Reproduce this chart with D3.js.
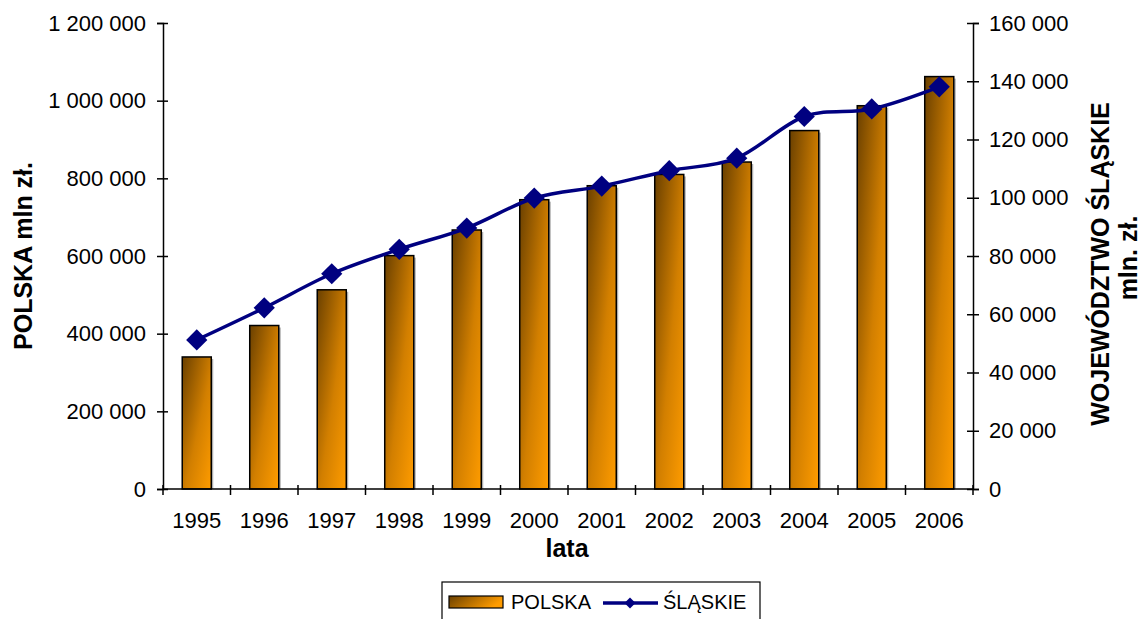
<!DOCTYPE html>
<html>
<head>
<meta charset="utf-8">
<script src="https://cdn.jsdelivr.net/npm/d3@7"></script>
<style>
  body { margin: 0; background: #fff; }
  text { font-family: "Liberation Sans", Arial, sans-serif; fill: #000; }
</style>
</head>
<body>
<div id="chart"></div>
<script>

var years = ['1995','1996','1997','1998','1999','2000','2001','2002','2003','2004','2005','2006']
var polska = [340000, 421000, 513000, 601000, 667000, 745000, 781000, 810000, 842000, 923000, 987000, 1062000]
var slaskie = [51200, 62200, 73900, 82300, 89600, 99900, 104000, 109300, 113600, 127900, 130500, 138100]
var leftTicks = [0, 200000, 400000, 600000, 800000, 1000000, 1200000]
var rightTicks = [0, 20000, 40000, 60000, 80000, 100000, 120000, 140000, 160000]

var width = 1142, height = 619
var plot = {left: 163, right: 973, top: 23, bottom: 489}

var fmt = function(d) { return d3.format(",")(d).replace(/,/g, ' ') }

var svg = d3.select("#chart").append("svg")
  .attr("width", width)
  .attr("height", height)

var defs = svg.append("defs")
var grad = defs.append("linearGradient")
  .attr("id", "barGrad")
  .attr("x1", 0).attr("y1", 0).attr("x2", 1).attr("y2", 1)
grad.append("stop").attr("offset", 0).attr("stop-color", "#6a4000")
grad.append("stop").attr("offset", 0.55).attr("stop-color", "#d27f00")
grad.append("stop").attr("offset", 1).attr("stop-color", "#ff9c00")

var legGrad = defs.append("linearGradient")
  .attr("id", "legGrad")
  .attr("x1", 0).attr("y1", 0).attr("x2", 1).attr("y2", 0.3)
legGrad.append("stop").attr("offset", 0).attr("stop-color", "#6a4000")
legGrad.append("stop").attr("offset", 1).attr("stop-color", "#ff9c00")

var x = d3.scaleBand()
  .domain(years)
  .range([plot.left, plot.right])
  .paddingInner(0.57)
  .paddingOuter(0.285)

var yLeft = d3.scaleLinear().domain([0, 1200000]).range([plot.bottom, plot.top])
var yRight = d3.scaleLinear().domain([0, 160000]).range([plot.bottom, plot.top])

// bar shadows then bars
svg.selectAll(".shadow")
  .data(polska)
  .enter().append("rect")
  .attr("x", function(d, i) { return x(years[i]) + 2 })
  .attr("y", function(d) { return yLeft(d) + 2 })
  .attr("width", x.bandwidth())
  .attr("height", function(d) { return plot.bottom - yLeft(d) - 2 })
  .style("fill", "#b0b0b0")

svg.selectAll(".bar")
  .data(polska)
  .enter().append("rect")
  .attr("class", "bar")
  .attr("x", function(d, i) { return x(years[i]) })
  .attr("y", function(d) { return yLeft(d) })
  .attr("width", x.bandwidth())
  .attr("height", function(d) { return plot.bottom - yLeft(d) })
  .style("fill", "url(#barGrad)")
  .style("stroke", "#000")
  .style("stroke-width", 1.5)

// line
var line = d3.line()
  .x(function(d, i) { return x(years[i]) + x.bandwidth() / 2 })
  .y(function(d) { return yRight(d) })
  .curve(d3.curveCardinal)

svg.append("path")
  .datum(slaskie)
  .attr("d", line)
  .style("fill", "none")
  .style("stroke", "#000080")
  .style("stroke-width", 3.5)

svg.selectAll(".marker")
  .data(slaskie)
  .enter().append("path")
  .attr("d", d3.symbol().type(d3.symbolSquare).size(225))
  .attr("transform", function(d, i) {
    return "translate(" + (x(years[i]) + x.bandwidth() / 2) + "," + yRight(d) + ") rotate(45)"
  })
  .style("fill", "#000080")

// left axis
var gl = svg.append("g")
  .attr("transform", "translate(" + plot.left + ",0)")
  .call(d3.axisLeft(yLeft).tickValues(leftTicks).tickFormat(fmt).tickSize(6).tickPadding(11))
gl.selectAll(".tick line").attr("x1", 5)
gl.selectAll(".tick text").style("font-size", "22px").style("font-family", "Liberation Sans, Arial, sans-serif")

// right axis
var gr = svg.append("g")
  .attr("transform", "translate(" + plot.right + ",0)")
  .call(d3.axisRight(yRight).tickValues(rightTicks).tickFormat(fmt).tickSize(6).tickPadding(10))
gr.selectAll(".tick line").attr("x1", -6)
gr.selectAll(".tick text").style("font-size", "22px").style("font-family", "Liberation Sans, Arial, sans-serif")

// bottom axis with labels, ticks between categories
var gb = svg.append("g")
  .attr("transform", "translate(0," + plot.bottom + ")")
  .call(d3.axisBottom(x).tickSize(0).tickPadding(23))
gb.selectAll(".tick text").style("font-size", "22px").style("font-family", "Liberation Sans, Arial, sans-serif")
gb.select(".domain").attr("d", "M" + plot.left + ",0H" + plot.right)

var gap = (x.step() - x.bandwidth()) / 2
var bounds = years.map(function(y) { return x(y) - gap }).concat([plot.right])
gb.selectAll(".btick")
  .data(bounds)
  .enter().append("line")
  .attr("x1", function(d) { return d }).attr("x2", function(d) { return d })
  .attr("y1", -4).attr("y2", 6)

svg.selectAll(".domain, .tick line, line").style("stroke", "#000").style("stroke-width", 1.5)

// axis titles
svg.append("text")
  .attr("transform", "translate(32,256) rotate(-90)")
  .style("text-anchor", "middle")
  .style("font-weight", "bold")
  .style("font-size", "25px")
  .text("POLSKA mln zł.")

svg.append("text")
  .attr("x", 567).attr("y", 557)
  .style("text-anchor", "middle")
  .style("font-weight", "bold")
  .style("font-size", "25px")
  .text("lata")

svg.append("text")
  .attr("transform", "translate(1109,264) rotate(-90)")
  .style("text-anchor", "middle")
  .style("font-weight", "bold")
  .style("font-size", "25px")
  .text("WOJEWÓDZTWO ŚLĄSKIE")

svg.append("text")
  .attr("transform", "translate(1137,258) rotate(-90)")
  .style("text-anchor", "middle")
  .style("font-weight", "bold")
  .style("font-size", "25px")
  .text("mln. zł.")

// legend
var leg = svg.append("g")
leg.append("rect")
  .attr("x", 442).attr("y", 582).attr("width", 318).attr("height", 60)
  .style("fill", "#fff").style("stroke", "#000").style("stroke-width", 1.2)
leg.append("rect")
  .attr("x", 449).attr("y", 596).attr("width", 54).attr("height", 12)
  .style("fill", "url(#legGrad)").style("stroke", "#000").style("stroke-width", 1.2)
leg.append("text")
  .attr("x", 511).attr("y", 609)
  .style("font-size", "20px")
  .text("POLSKA")
leg.append("line")
  .attr("x1", 603).attr("x2", 658).attr("y1", 603).attr("y2", 603)
  .style("stroke", "#000080").style("stroke-width", 3.5)
leg.append("path")
  .attr("d", d3.symbol().type(d3.symbolSquare).size(60))
  .attr("transform", "translate(630,603) rotate(45)")
  .style("fill", "#000080")
leg.append("text")
  .attr("x", 663).attr("y", 609)
  .style("font-size", "20px")
  .text("ŚLĄSKIE")

</script>
</body>
</html>
